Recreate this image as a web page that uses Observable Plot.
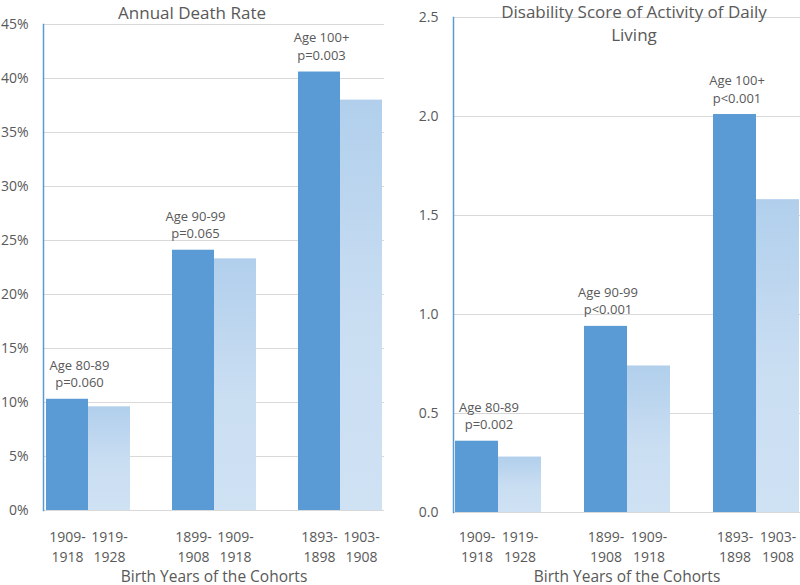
<!DOCTYPE html>
<html>
<head>
<meta charset="utf-8">
<script src="https://cdn.jsdelivr.net/npm/d3@7"></script>
<script src="https://cdn.jsdelivr.net/npm/@observablehq/plot@0.6"></script>
<style>
  body { margin: 0; background: #fff; }
  #wrap { display: flex; width: 800px; height: 585px; overflow: hidden; }
  #wrap svg { font-family: "Open Sans", sans-serif; overflow: visible; }
</style>
</head>
<body>
<div id="wrap"></div>
<script>
// ---- data ----
const ageGroups = ["Age 80-89", "Age 90-99", "Age 100+"];
const earlierCohorts = ["1909-1918", "1899-1908", "1893-1898"];
const laterCohorts = ["1919-1928", "1909-1918", "1903-1908"];

const deathEarlier = [0.103, 0.241, 0.406];
const deathLater = [0.096, 0.233, 0.380];
const deathP = ["p=0.060", "p=0.065", "p=0.003"];
const deathTicks = [0, 0.05, 0.10, 0.15, 0.20, 0.25, 0.30, 0.35, 0.40, 0.45];

const adlEarlier = [0.36, 0.94, 2.01];
const adlLater = [0.28, 0.74, 1.58];
const adlP = ["p=0.002", "p<0.001", "p<0.001"];
const adlTicks = [0, 0.5, 1.0, 1.5, 2.0, 2.5];

const xTitle = "Birth Years of the Cohorts";

// ---- styles ----
const TEXT = "#595959";
const DARK = "#5B9BD5";

function panel({title, earlier, later, pvals, ticks, tickFormat, width, height,
                marginLeft, marginRight, marginTop, marginBottom, xTickPadding,
                titleDx, titleDy, titleLineHeight, xTitleDy, gradId}) {
  const bars = [];
  const domain = [];
  const labelOf = new Map();
  ageGroups.forEach((g, i) => {
    const ke = `g${i}e`, kl = `g${i}l`;
    bars.push({key: ke, kind: "e", value: earlier[i]});
    bars.push({key: kl, kind: "l", value: later[i]});
    domain.push(ke, kl);
    labelOf.set(ke, earlierCohorts[i].replace("-", "-\n"));
    labelOf.set(kl, laterCohorts[i].replace("-", "-\n"));
    if (i < ageGroups.length - 1) { domain.push(`s${i}`); labelOf.set(`s${i}`, ""); }
  });
  const annots = ageGroups.map((g, i) => ({key: `g${i}e`, value: earlier[i], text: `${g}\n${pvals[i]}`, i}));

  const defs = () => {
    const d = d3.create("svg:defs");
    const lg = d.append("linearGradient").attr("id", gradId)
      .attr("x1", 0).attr("y1", 0).attr("x2", 0).attr("y2", 1);
    lg.append("stop").attr("offset", "0%").attr("stop-color", "#B1CFEC");
    lg.append("stop").attr("offset", "55%").attr("stop-color", "#CADEF2");
    lg.append("stop").attr("offset", "100%").attr("stop-color", "#CFE2F4");
    return d.node();
  };

  const annotStyle = {x: "key", y: "value", text: "text", lineAnchor: "bottom", dy: -12,
                      fontSize: 13, fill: TEXT, lineHeight: 1.35};

  return Plot.plot({
    width, height, marginLeft, marginRight, marginTop, marginBottom,
    x: {type: "band", domain, padding: 0},
    y: {domain: [ticks[0], ticks[ticks.length - 1]]},
    marks: [
      defs,
      Plot.gridY(ticks, {stroke: "#D9D9D9", strokeOpacity: 1}),
      Plot.barY(bars.filter(d => d.kind === "e"), {x: "key", y: "value", fill: DARK, inset: 0}),
      Plot.barY(bars.filter(d => d.kind === "l"), {x: "key", y: "value", fill: `url(#${gradId})`, inset: 0}),
      Plot.frame({anchor: "left", stroke: DARK, strokeWidth: 1.5}),
      Plot.axisY({ticks, tickFormat, tickSize: 0, tickPadding: 15, fontSize: 14, fill: TEXT, label: null}),
      Plot.axisX({tickSize: 0, tickPadding: xTickPadding, tickFormat: k => labelOf.get(k), fontSize: 14,
                  fill: TEXT, label: null, lineHeight: 1.43}),
      Plot.text(annots.filter(d => d.i === 0), {...annotStyle, dx: 12}),
      Plot.text(annots.filter(d => d.i > 0), {...annotStyle, dx: 2}),
      Plot.text([title], {text: d => d, frameAnchor: "top", lineAnchor: "bottom", dx: titleDx, dy: titleDy,
                          fontSize: 17, fill: TEXT, lineHeight: titleLineHeight}),
      Plot.text([xTitle], {text: d => d, frameAnchor: "bottom", lineAnchor: "bottom", dy: xTitleDy,
                           fontSize: 15.5, fill: TEXT})
    ]
  });
}

const wrap = document.getElementById("wrap");
wrap.append(panel({
  title: "Annual Death Rate",
  earlier: deathEarlier, later: deathLater, pvals: deathP,
  ticks: deathTicks, tickFormat: d3.format(".0%"),
  width: 400, height: 585, marginLeft: 43, marginRight: 16, marginTop: 24, marginBottom: 75,
  xTickPadding: 17,
  titleDx: -22, titleDy: -6, titleLineHeight: 1.2, xTitleDy: 71, gradId: "gradDeath"
}));
wrap.append(panel({
  title: "Disability Score of Activity of Daily\nLiving",
  earlier: adlEarlier, later: adlLater, pvals: adlP,
  ticks: adlTicks, tickFormat: d3.format(".1f"),
  width: 400, height: 585, marginLeft: 53, marginRight: 0, marginTop: 17, marginBottom: 73,
  xTickPadding: 15,
  titleDx: 7, titleDy: 23, titleLineHeight: 1.3, xTitleDy: 69, gradId: "gradAdl"
}));
</script>
</body>
</html>
